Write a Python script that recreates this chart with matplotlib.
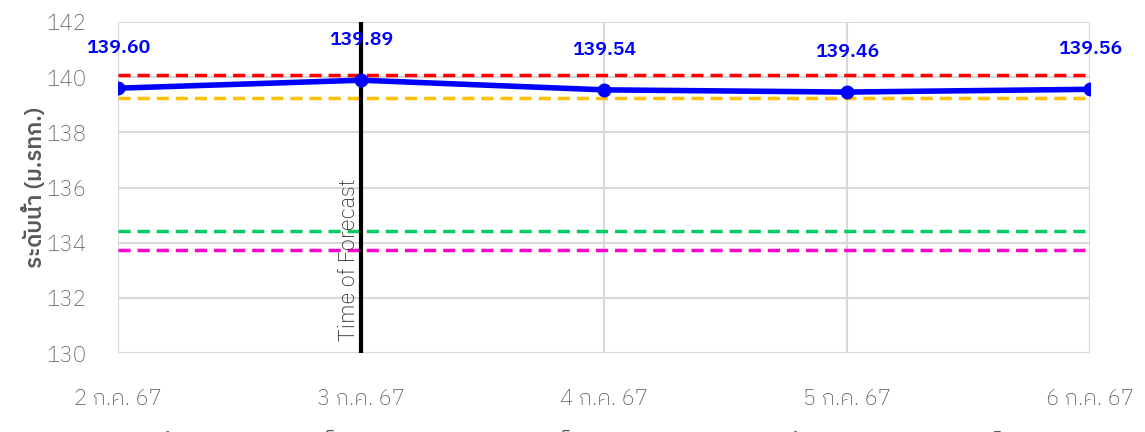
import matplotlib
matplotlib.use("Agg")
import matplotlib.pyplot as plt
from matplotlib.lines import Line2D

plt.rcParams['font.family'] = ['IBM Plex Sans Thai', 'Noto Sans Thai', 'DejaVu Sans']

dates = ["2 ก.ค. 67", "3 ก.ค. 67", "4 ก.ค. 67", "5 ก.ค. 67", "6 ก.ค. 67"]
level = [139.60, 139.89, 139.54, 139.46, 139.56]
level_labels = ["139.60", "139.89", "139.54", "139.46", "139.56"]

# reference levels (dashed lines)
ref_names = ["ระดับเก็บกักสูงสุด", "ระดับเก็บกักปกติ", "ระดับเฝ้าระวัง", "ระดับเก็บกักต่ำสุด"]
ref_values = [140.08, 139.24, 134.42, 133.73]
ref_colors = ["#ff0000", "#ffc000", "#00cc66", "#ff00cc"]
forecast_idx = 1

fig = plt.figure(figsize=(11.45, 4.32), dpi=100)
ax = fig.add_axes([118 / 1145, 1 - 353 / 432, (1090 - 118) / 1145, (353 - 22) / 432])

x = list(range(len(dates)))
for v, c in zip(ref_values, ref_colors):
    ax.axhline(v, color=c, lw=2.5, ls=(0, (3.5, 2.0)), zorder=3)

ax.plot(x, level, color="#0000ff", lw=4, marker="o", ms=9, zorder=5,
        solid_capstyle="round")
for xi, v, s in zip(x, level, level_labels):
    ax.annotate(s, (xi, v), xytext=(0, 29), textcoords="offset points",
                ha="center", va="center", color="#0000ff", fontsize=14,
                fontweight="semibold", zorder=6)

ax.axvline(forecast_idx, color="black", lw=3, zorder=4)
ax.text(forecast_idx - 0.004, 130.45, "Time of Forecast", rotation=90,
        ha="right", va="bottom", fontsize=16, fontweight="light",
        color="#262626", zorder=6)

ax.set_xlim(0, len(dates) - 1)
ax.set_ylim(130, 142)
ax.set_yticks(range(130, 143, 2))
ax.set_xticks(x)
ax.set_xticklabels(dates)
ax.tick_params(axis="both", length=0, labelsize=16, labelcolor="#595959")
ax.tick_params(axis="x", pad=25)
ax.tick_params(axis="y", pad=23)
for lab in ax.get_xticklabels() + ax.get_yticklabels():
    lab.set_fontweight("light")
ax.grid(True, color="#d9d9d9", lw=1.5, zorder=0)
for sp in ax.spines.values():
    sp.set_visible(False)

ax.set_ylabel("ระดับน้ำ (ม.รทก.)", fontsize=16, fontweight="semibold",
              color="#595959", labelpad=0)

handles = [Line2D([], [], color="#0000ff", lw=4, marker="o")]
handles += [Line2D([], [], color=c, lw=3, ls="--") for c in ref_colors]
names = ["ระดับน้ำ"] + ref_names
fig.legend(handles, names, loc="upper center", bbox_to_anchor=(0.5, 0.045),
           ncol=5, frameon=False, fontsize=14, labelcolor="#595959")

fig.savefig("out.png")
